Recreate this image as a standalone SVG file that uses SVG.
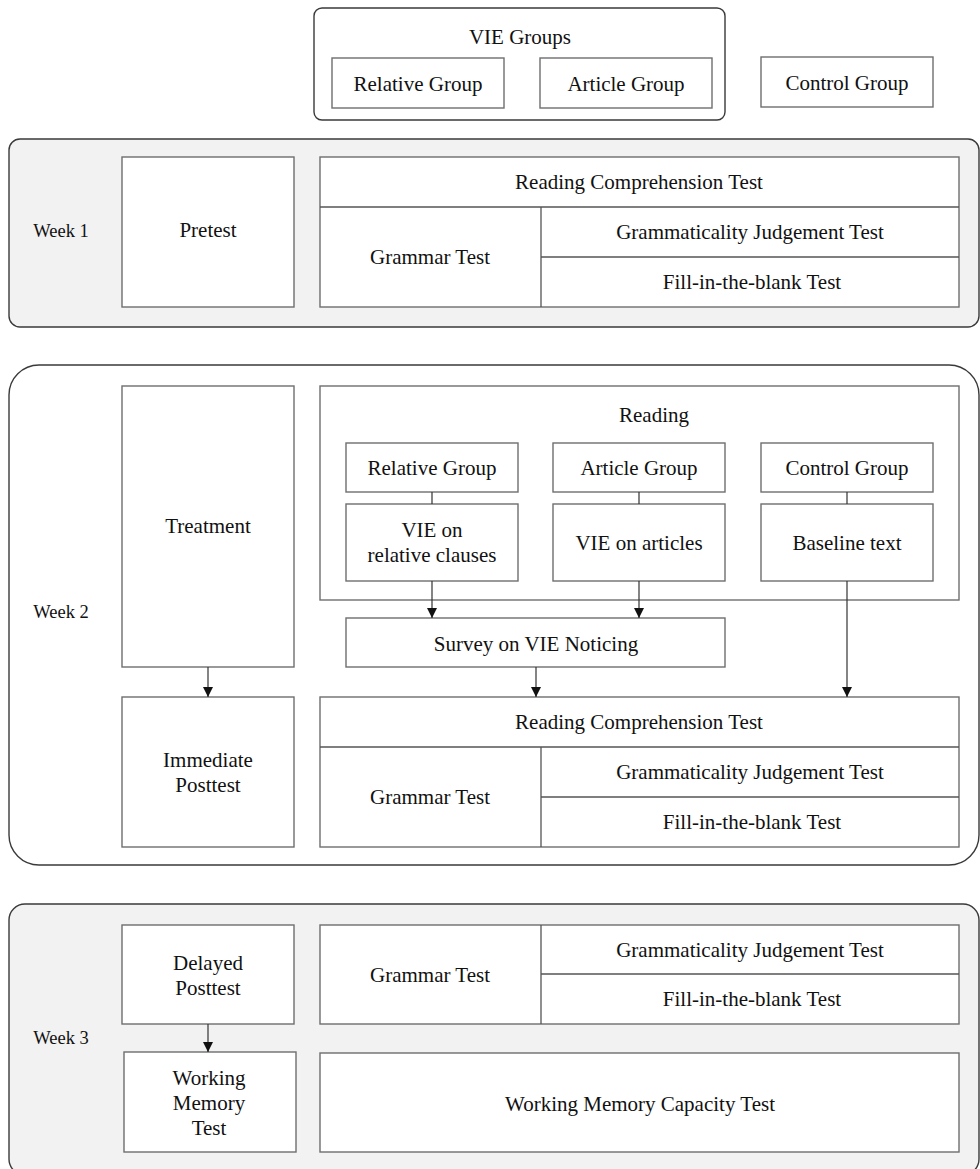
<svg xmlns="http://www.w3.org/2000/svg" width="980" height="1169" viewBox="0 0 980 1169">
<style>
text{font-family:"Liberation Serif","Times New Roman",serif;font-size:21px;fill:#111;text-anchor:middle}
.wk{font-size:18.5px}
.box{fill:#fff;stroke:#6e6e6e;stroke-width:1.4}
.div{stroke:#555;stroke-width:1.3;fill:none}
.week{stroke:#3a3a3a;stroke-width:1.4}
.gray{fill:#f2f2f2}
.white{fill:#fff}
.conn{stroke:#333;stroke-width:1.2;fill:none}
</style>
<defs>
<marker id="ah" markerUnits="userSpaceOnUse" markerWidth="10" markerHeight="10" refX="10" refY="5" orient="auto">
<path d="M0,0 L10,5 L0,10 z" fill="#111"/>
</marker>
</defs>
<rect width="980" height="1169" fill="#fff"/>

<g id="vie-groups">
<rect x="314" y="8" width="411" height="112" rx="8" fill="#fff" stroke="#3a3a3a" stroke-width="1.4"/>
<text x="520" y="44">VIE Groups</text>
</g>
<g id="top-relative"><rect class="box" x="332" y="58" width="172" height="50"/><text x="418" y="91">Relative Group</text></g>
<g id="top-article"><rect class="box" x="540" y="58" width="172" height="50"/><text x="626" y="91">Article Group</text></g>
<g id="top-control"><rect class="box" x="761" y="57" width="172" height="50"/><text x="847" y="90">Control Group</text></g>

<g id="week1">
<rect class="week gray" x="9" y="139" width="970" height="188" rx="11"/>
<text class="wk" x="61" y="237">Week 1</text>
</g>
<g id="pretest"><rect class="box" x="122" y="157" width="172" height="150"/><text x="208" y="237">Pretest</text></g>
<g id="w1-tests">
<rect class="box" x="320" y="157" width="639" height="150"/>
<path class="div" d="M320,207 H959 M541,207 V307 M541,257 H959"/>
<text x="639" y="189">Reading Comprehension Test</text>
<text x="430" y="264">Grammar Test</text>
<text x="750" y="239">Grammaticality Judgement Test</text>
<text x="752" y="289">Fill-in-the-blank Test</text>
</g>

<g id="week2">
<rect class="week white" x="9" y="365" width="970" height="500" rx="30"/>
<text class="wk" x="61" y="618">Week 2</text>
</g>
<g id="treatment"><rect class="box" x="122" y="386" width="172" height="281"/><text x="208" y="533">Treatment</text></g>
<g id="reading"><rect class="box" x="320" y="386" width="639" height="214"/><text x="654" y="422">Reading</text></g>
<g id="w2-relative"><rect class="box" x="346" y="443" width="172" height="49"/><text x="432" y="475">Relative Group</text></g>
<g id="w2-article"><rect class="box" x="553" y="443" width="172" height="49"/><text x="639" y="475">Article Group</text></g>
<g id="w2-control"><rect class="box" x="761" y="443" width="172" height="49"/><text x="847" y="475">Control Group</text></g>
<g id="vie-relative"><rect class="box" x="346" y="504" width="172" height="77"/><text x="432" y="537">VIE on</text><text x="432" y="562">relative clauses</text></g>
<g id="vie-articles"><rect class="box" x="553" y="504" width="172" height="77"/><text x="639" y="550">VIE on articles</text></g>
<g id="baseline"><rect class="box" x="761" y="504" width="172" height="77"/><text x="847" y="550">Baseline text</text></g>
<g id="survey"><rect class="box" x="346" y="618" width="379" height="49"/><text x="536" y="651">Survey on VIE Noticing</text></g>
<g id="immediate"><rect class="box" x="122" y="697" width="172" height="150"/><text x="208" y="767">Immediate</text><text x="208" y="792">Posttest</text></g>
<g id="w2-tests">
<rect class="box" x="320" y="697" width="639" height="150"/>
<path class="div" d="M320,747 H959 M541,747 V847 M541,797 H959"/>
<text x="639" y="729">Reading Comprehension Test</text>
<text x="430" y="804">Grammar Test</text>
<text x="750" y="779">Grammaticality Judgement Test</text>
<text x="752" y="829">Fill-in-the-blank Test</text>
</g>

<g id="week3">
<rect class="week gray" x="9" y="904" width="970" height="271" rx="16"/>
<text class="wk" x="61" y="1044">Week 3</text>
</g>
<g id="delayed"><rect class="box" x="122" y="925" width="172" height="99"/><text x="208" y="970">Delayed</text><text x="208" y="995">Posttest</text></g>
<g id="w3-tests">
<rect class="box" x="320" y="925" width="639" height="99"/>
<path class="div" d="M541,925 V1024 M541,974 H959"/>
<text x="430" y="982">Grammar Test</text>
<text x="750" y="957">Grammaticality Judgement Test</text>
<text x="752" y="1006">Fill-in-the-blank Test</text>
</g>
<g id="wm-test"><rect class="box" x="124" y="1052" width="172" height="100"/><text x="209" y="1085">Working</text><text x="209" y="1110">Memory</text><text x="209" y="1135">Test</text></g>
<g id="wmc-test"><rect class="box" x="320" y="1053" width="639" height="99"/><text x="640" y="1111">Working Memory Capacity Test</text></g>

<g id="connectors">
<path class="conn" d="M432,492 V504 M639,492 V504 M847,492 V504"/>
<path class="conn" d="M432,581 V618" marker-end="url(#ah)"/>
<path class="conn" d="M639,581 V618" marker-end="url(#ah)"/>
<path class="conn" d="M536,667 V697" marker-end="url(#ah)"/>
<path class="conn" d="M847,581 V697" marker-end="url(#ah)"/>
<path class="conn" d="M208,667 V697" marker-end="url(#ah)"/>
<path class="conn" d="M208,1024 V1052" marker-end="url(#ah)"/>
</g>
</svg>
